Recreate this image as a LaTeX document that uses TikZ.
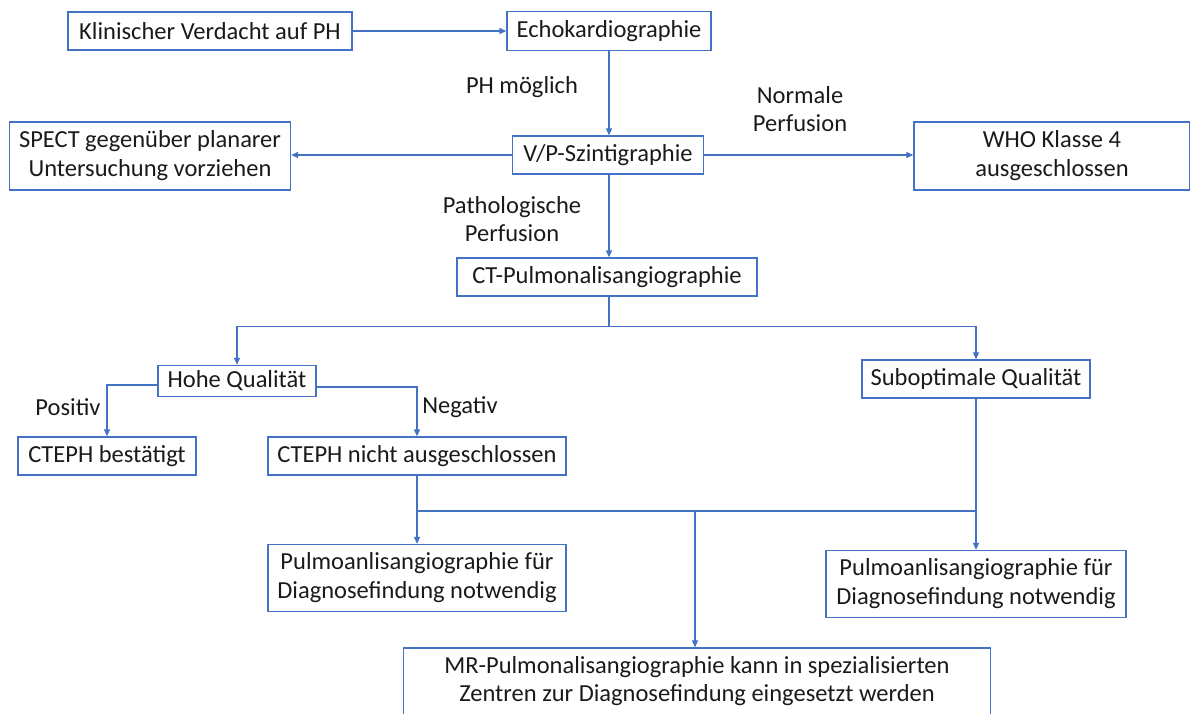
\documentclass[tikz,border=0pt]{standalone}
\usepackage{fontspec}
\setmainfont{Carlito}
\usetikzlibrary{arrows.meta,calc}
\definecolor{boxblue}{HTML}{4472C4}
\definecolor{txt}{HTML}{1A1A1A}
\tikzset{
  box/.style={draw=boxblue, line width=1.3pt, inner sep=0pt, align=center, text=txt,
    font=\fontsize{24.5}{29}\selectfont},
  lbl/.style={inner sep=0pt, align=center, text=txt, font=\fontsize{24.5}{28}\selectfont},
  conn/.style={draw=boxblue, line width=1.2pt},
  arr/.style={conn, -{Triangle[length=7pt,width=6pt]}}
}
\begin{document}
\begin{tikzpicture}[x=1pt,y=-1pt]
\useasboundingbox (0,0) rectangle (1190,713);
\node[box, minimum width=284pt, minimum height=38pt] (klin) at (210,31) {Klinischer Verdacht auf PH};
\node[box, minimum width=204pt, minimum height=39pt] (echo) at (609,31) {Echokardiographie};
\node[box, minimum width=191pt, minimum height=38pt] (vp) at (608,155) {V/P-Szintigraphie};
\node[box, minimum width=281pt, minimum height=68pt] (spect) at (150,156) {SPECT gegenüber planarer\\Untersuchung vorziehen};
\node[box, minimum width=276pt, minimum height=68pt] (who) at (1052,156) {WHO Klasse 4\\ausgeschlossen};
\node[box, minimum width=300pt, minimum height=38pt] (ct) at (607,277) {CT-Pulmonalisangiographie};
\node[box, minimum width=158pt, minimum height=31pt] (hohe) at (237,381) {Hohe Qualität};
\node[box, minimum width=228pt, minimum height=38pt] (sub) at (976,379) {Suboptimale Qualität};
\node[box, minimum width=178pt, minimum height=38pt] (best) at (107,456) {CTEPH bestätigt};
\node[box, minimum width=298pt, minimum height=38pt] (nicht) at (417,456) {CTEPH nicht ausgeschlossen};
\node[box, minimum width=298pt, minimum height=67pt] (pl) at (417,578) {Pulmoanlisangiographie für\\Diagnosefindung notwendig};
\node[box, minimum width=300pt, minimum height=67pt] (pr) at (976,584) {Pulmoanlisangiographie für\\Diagnosefindung notwendig};
\node[box, minimum width=587pt, minimum height=78pt] (mr) at (697,687) {};
\node[lbl] (mrt) at (697,681) {MR-Pulmonalisangiographie kann in spezialisierten\\Zentren zur Diagnosefindung eingesetzt werden};

\node[lbl] (l1) at (522,87) {PH möglich};
\node[lbl] (l2) at (800,109) {Normale\\Perfusion};
\node[lbl] (l3) at (512,219) {Pathologische\\Perfusion};
\node[lbl] (l4) at (68,407) {Positiv};
\node[lbl] (l5) at (460,407) {Negativ};

\draw[arr] (klin.east) -- (echo.west);
\draw[arr] (echo.south) -- (vp.north -| echo.south);
\draw[arr] (vp.west) -- (spect.east |- vp.west);
\draw[arr] (vp.east) -- (who.west |- vp.east);
\draw[arr] (vp.south -| echo.south) -- (ct.north -| echo.south);
\coordinate (cj) at ($(ct.south -| echo.south)+(0,30)$);
\draw[conn] (ct.south -| echo.south) -- (cj);
\draw[arr] (cj) -| (hohe.north);
\draw[arr] (cj) -| (sub.north);
\draw[arr] ([yshift=-4pt]hohe.west) -| (best.north);
\draw[arr] ([yshift=-6pt]hohe.east) -| (nicht.north);
\coordinate (j) at (0,511);
\draw[conn] (nicht.south) -- (nicht.south |- j) -- (sub.south |- j);
\draw[conn] (sub.south) -- (sub.south |- j);
\draw[arr] (nicht.south |- j) -- (pl.north);
\draw[arr] (sub.south |- j) -- (pr.north);
\coordinate (mj) at (695,511);
\draw[arr] (mj) -- (mj |- mr.north);
\end{tikzpicture}
\end{document}
